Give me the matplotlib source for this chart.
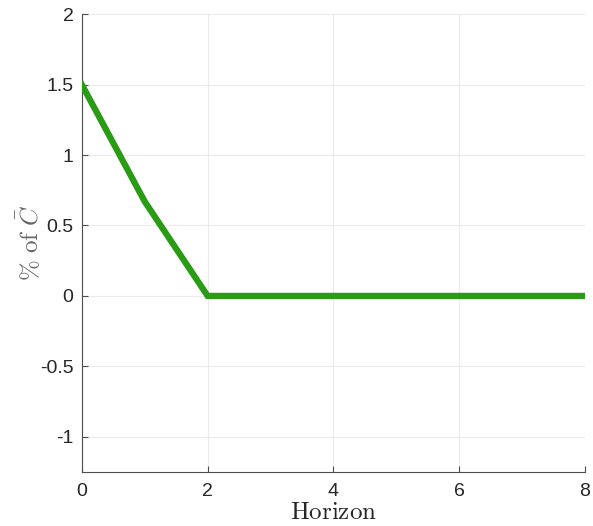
import numpy as np
import matplotlib
matplotlib.use("Agg")
import matplotlib.pyplot as plt

plt.rcParams['mathtext.fontset'] = 'cm'
plt.rcParams['font.family'] = ['Liberation Sans', 'DejaVu Sans']

# --------------------------------------------------
# Data
# --------------------------------------------------
horizon = [0, 1, 2, 3, 4, 5, 6, 7, 8]
response = [1.5, 0.67, 0.0, 0.0, 0.0, 0.0, 0.0, 0.0, 0.0]
x_ticks = [0, 2, 4, 6, 8]
y_ticks = [-1, -0.5, 0, 0.5, 1, 1.5, 2]
y_tick_labels = ['-1', '-0.5', '0', '0.5', '1', '1.5', '2']

# --------------------------------------------------
# Figure
# --------------------------------------------------
fig = plt.figure(figsize=(5.93, 5.26), dpi=100)
ax = fig.add_axes([0.138, 0.1027, 0.8485, 0.8703])

ax.plot(horizon, response, color='black', lw=3.5, zorder=2)
ax.plot(horizon, response, color='#2a9b14', lw=4.5, zorder=3,
        solid_joinstyle='miter')

ax.set_xlim(0, 8)
ax.set_ylim(-1.25, 2)
ax.set_xticks(x_ticks)
ax.set_yticks(y_ticks)
ax.set_yticklabels(y_tick_labels)
ax.grid(True, color='#ebebeb', lw=0.8)
ax.set_axisbelow(True)

for side in ['top', 'right']:
    ax.spines[side].set_visible(False)
for side in ['left', 'bottom']:
    ax.spines[side].set_color('#4d4d4d')
    ax.spines[side].set_linewidth(0.8)

ax.tick_params(direction='in', length=4, color='#4d4d4d',
               labelsize=14, labelcolor='#262626')
ax.tick_params(axis='x', pad=8)
ax.tick_params(axis='y', pad=6)

ax.set_xlabel(r'$\mathrm{Horizon}$', fontsize=18, color='#262626', labelpad=0)
ax.set_ylabel(r'$\%\ \mathrm{of}\ \bar{C}$', fontsize=18, color='#666666', labelpad=-2)

fig.savefig('out.png', dpi=100)
